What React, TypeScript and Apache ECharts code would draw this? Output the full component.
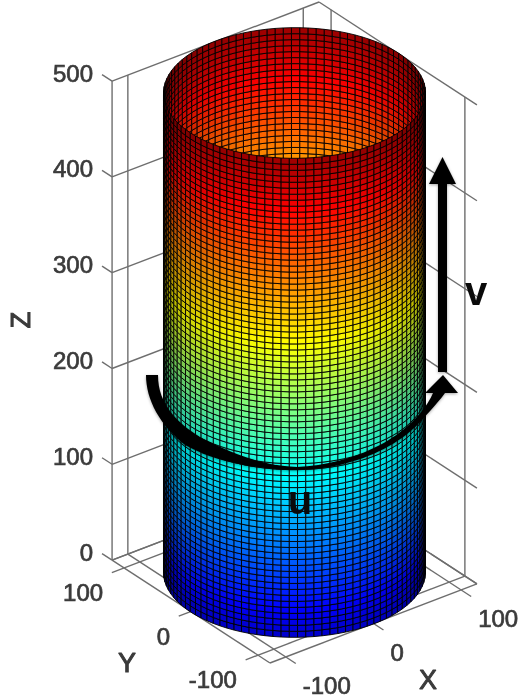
import React, { useEffect, useRef } from "react";
import * as echarts from "echarts";

const xTicks = [-100, 0, 100];
const yTicks = [100, 0, -100];
const zTicks = [0, 100, 200, 300, 400, 500];
const axisLimit = 118;
const zTop = 500;
const cylinderRadius = 118.8;
const meshColumns = 100;
const meshRows = 80;
// jet colormap stops: position, r, g, b
const jetStops = [
  [0, 0, 0, 128], [0.125, 0, 0, 255], [0.375, 0, 255, 255],
  [0.625, 255, 255, 0], [0.875, 255, 0, 0], [1, 128, 0, 0],
];
const colorLow = -40;
const colorHigh = 515;

const view = { cx: 294.5, cy: 572, xx: 0.877, xy: -0.335, yx: -0.669, yy: -0.436, zy: -0.958 };
const project = (x: number, y: number, z: number): [number, number] => [
  view.cx + view.xx * x + view.yx * y,
  view.cy + view.xy * x + view.yy * y + view.zy * z,
];

function jet(z: number, shade: number) {
  const t = Math.max(0, Math.min(1, (z - colorLow) / (colorHigh - colorLow)));
  let i = 0;
  while (i < jetStops.length - 2 && t > jetStops[i + 1][0]) i++;
  const a = jetStops[i], b = jetStops[i + 1];
  const f = (t - a[0]) / (b[0] - a[0]);
  const c = [1, 2, 3].map((k) => Math.round((a[k] + (b[k] - a[k]) * f) * shade));
  return `rgb(${c[0]},${c[1]},${c[2]})`;
}

// box and grid segments, in data space
const segments: number[][] = [];
const L = axisLimit;
segments.push([-L, L, 0, -L, -L, 0], [-L, -L, 0, L, -L, 0], [L, -L, 0, L, L, 0], [L, L, 0, -L, L, 0]);
segments.push([-L, L, 0, -L, L, zTop]);
xTicks.forEach((v) => {
  segments.push([v, L, 0, v, -L - 15, 0]);
  segments.push([v, L, 0, v, L, zTop]);
});
yTicks.forEach((v) => {
  segments.push([L, v, 0, -L - 14, v, 0]);
  segments.push([L, v, 0, L, v, zTop]);
});
zTicks.forEach((v) => {
  segments.push([-L, L + 15, v, -L, L, v]);
  segments.push([-L, L, v, L, L, v]);
  segments.push([L, L, v, L, -L, v]);
});

// mesh cells: column, row, front flag; the far wall is drawn first
const backCells: number[][] = [];
const frontCells: number[][] = [];
for (let c = 0; c < meshColumns; c++) {
  const th = ((c + 0.5) / meshColumns) * 2 * Math.PI;
  const offset = view.xy * Math.cos(th) + view.yy * Math.sin(th);
  const front = offset > 0;
  for (let r = 0; r < meshRows; r++) {
    if (front) frontCells.push([c, r, 1]);
    else if (r > meshRows * 0.66) backCells.push([c, r, 0]);
  }
}
const cells = [...backCells, ...frontCells];

const labels: (string | number)[][] = [];
xTicks.forEach((v) => {
  const p = project(v, -L, 0);
  labels.push([String(v), p[0] + 17, p[1] + 29, "left"]);
});
yTicks.forEach((v) => {
  const p = project(-L, v, 0);
  labels.push([String(v), p[0] - 21, p[1] + 24.5, "right"]);
});
zTicks.forEach((v) => {
  const p = project(-L, L, v);
  labels.push([String(v), p[0] - 19, p[1] - 8, "right"]);
});

const uArrowPath =
  "M146,375 C146,400 160,425 185,445 C215,462 260,470 297,470 C345,470 395,450 420,422 C432,409 440,400 445,393 " +
  "L458,393 L443,375 L425,393 L433,393 C425,412 405,432 380,445 C355,458 325,466 297,467 C260,466 225,450 200,437 " +
  "C178,423 158,405 158,375 Z";
echarts.graphic.registerShape("uArrow", echarts.graphic.extendPath(uArrowPath, {}) as any);

const FONT = '"Liberation Sans", Arial, sans-serif';
const GREY = "#3a3a3a";

export default function App() {
  const ref = useRef<HTMLDivElement>(null);
  useEffect(() => {
    document.body.style.margin = "0";
    document.body.style.background = "#fff";
    const chart = echarts.init(ref.current!, null, { renderer: "svg" });
    const shadow = { shadowBlur: 3, shadowColor: "rgba(0,0,0,0.35)", shadowOffsetY: 1 };
    const heavy = { stroke: GREY, lineWidth: 0.7 };
    chart.setOption({
      animation: false,
      backgroundColor: "#ffffff",
      grid: { left: 0, right: 0, top: 0, bottom: 0 },
      xAxis: { type: "value", min: 0, max: 518, show: false },
      yAxis: { type: "value", min: 0, max: 700, inverse: true, show: false },
      series: [
        {
          type: "custom",
          coordinateSystem: "cartesian2d",
          silent: true,
          z: 1,
          clip: false,
          data: segments,
          renderItem: (_p: any, api: any) => {
            const a = api.coord(project(api.value(0), api.value(1), api.value(2)));
            const b = api.coord(project(api.value(3), api.value(4), api.value(5)));
            return {
              type: "line",
              shape: { x1: a[0], y1: a[1], x2: b[0], y2: b[1] },
              style: { stroke: "#6e6e6e", lineWidth: 1.4, fill: "none" },
            };
          },
        },
        {
          type: "custom",
          coordinateSystem: "cartesian2d",
          silent: true,
          z: 2,
          clip: false,
          data: cells,
          renderItem: (_p: any, api: any) => {
            const c = api.value(0), r = api.value(1);
            const th0 = (c / meshColumns) * 2 * Math.PI;
            const th1 = ((c + 1) / meshColumns) * 2 * Math.PI;
            const z0 = (r / meshRows) * zTop;
            const z1 = ((r + 1) / meshRows) * zTop;
            const R = cylinderRadius;
            const pt = (th: number, z: number) =>
              api.coord(project(R * Math.cos(th), R * Math.sin(th), z));
            const thm = (th0 + th1) / 2;
            const u = ((view.xx * Math.cos(thm) + view.yx * Math.sin(thm)) * R) / 131;
            const shade = 0.35 + 0.65 * Math.pow(Math.max(0, 1 - u * u), 0.3);
            return {
              type: "polygon",
              shape: { points: [pt(th0, z0), pt(th1, z0), pt(th1, z1), pt(th0, z1)] },
              style: { fill: jet((z0 + z1) / 2, shade), stroke: "rgba(0,0,0,0.9)", lineWidth: 1 },
            };
          },
        },
        {
          type: "custom",
          coordinateSystem: "cartesian2d",
          silent: true,
          z: 3,
          clip: false,
          data: labels,
          dimensions: [{ name: "t", type: "ordinal" }, "x", "y", { name: "a", type: "ordinal" }],
          renderItem: (p: any, api: any) => {
            const row = labels[p.dataIndex];
            const q = api.coord([row[1], row[2]]);
            return {
              type: "text",
              x: q[0],
              y: q[1],
              style: {
                text: row[0],
                fill: GREY,
                font: `24px ${FONT}`,
                align: row[3],
                verticalAlign: "middle",
                ...heavy,
              },
            };
          },
        },
      ],
      graphic: [
        { type: "text", z: 50, x: 127, y: 663, style: { text: "Y", fill: GREY, font: `27px ${FONT}`, align: "center", verticalAlign: "middle", ...heavy, lineWidth: 1 } },
        { type: "text", z: 50, x: 428, y: 680, style: { text: "X", fill: GREY, font: `27px ${FONT}`, align: "center", verticalAlign: "middle", ...heavy, lineWidth: 1 } },
        { type: "text", z: 50, x: 21, y: 320, rotation: Math.PI / 2, style: { text: "Z", fill: GREY, font: `27px ${FONT}`, align: "center", verticalAlign: "middle", ...heavy, lineWidth: 1 } },
        { type: "uArrow", z: 60, x: 0, y: 0, style: { fill: "#000", ...shadow } },
        { type: "rect", z: 60, shape: { x: 438, y: 180, width: 9, height: 192 }, style: { fill: "#000", ...shadow } },
        { type: "polygon", z: 60, shape: { points: [[442.5, 157], [456, 184], [429, 184]] }, style: { fill: "#000", ...shadow } },
        { type: "text", z: 61, x: 300, y: 480, style: { text: "u", fill: "#0a0a0a", font: `bold 40px ${FONT}`, align: "center", verticalAlign: "top" } },
        { type: "text", z: 61, x: 476, y: 271, style: { text: "v", fill: "#0a0a0a", font: `bold 40px ${FONT}`, align: "center", verticalAlign: "top" } },
      ],
    });
    return () => chart.dispose();
  }, []);
  return <div ref={ref} style={{ width: 518, height: 700, filter: "blur(0.45px)" }} />;
}
